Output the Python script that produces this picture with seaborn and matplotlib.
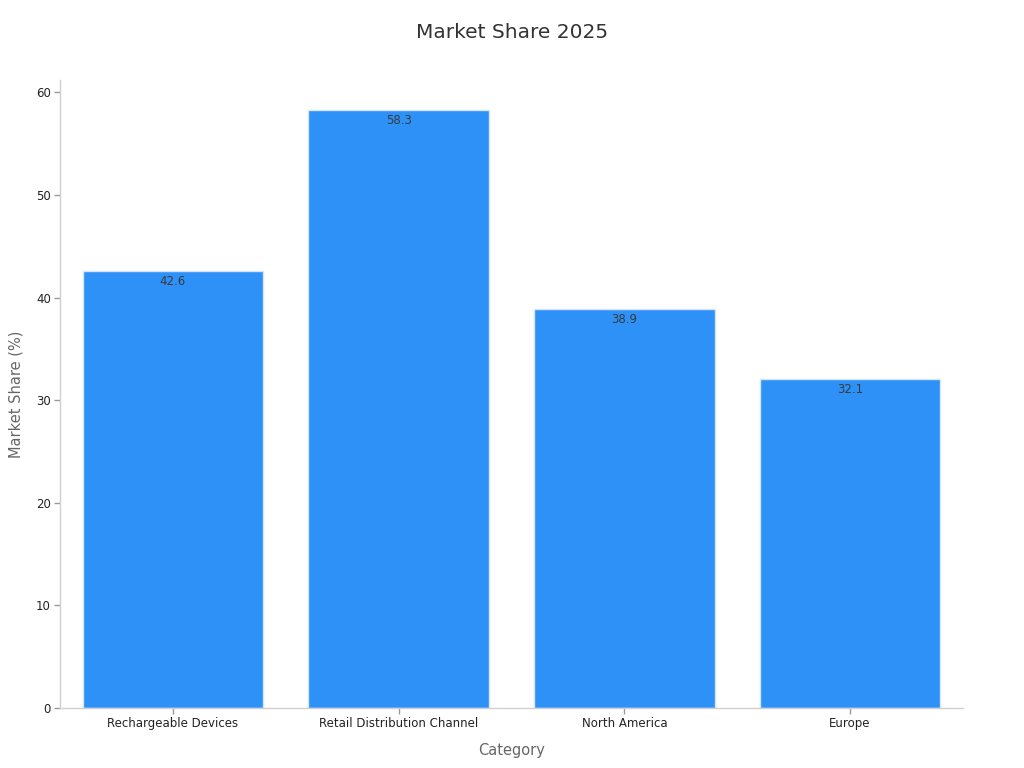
import seaborn as sns
import matplotlib.pyplot as plt
import pandas as pd

categories = ['Rechargeable Devices', 'Retail Distribution Channel', 'North America', 'Europe']
shares = [42.6, 58.3, 38.9, 32.1]

df = pd.DataFrame({'Category': categories, 'Share': shares})

sns.set_style('white')
plt.rcParams['font.family'] = ['DejaVu Sans']

fig = plt.figure(figsize=(10.24, 7.68), dpi=100)
ax = fig.add_axes([60 / 1024, 1 - 708 / 768, 903 / 1024, 628 / 768])

sns.barplot(data=df, x='Category', y='Share', color='#2E91F8', saturation=1,
            width=0.8, edgecolor='#D6E6FA', linewidth=1, ax=ax)

for i, v in enumerate(shares):
    ax.text(i, v - 0.4, f'{v}', ha='center', va='top', fontsize=8.5, color='#3a3a3a')

ax.set_xlim(-0.5, 3.5)
ax.set_ylim(0, max(shares) * 1.05)
ax.set_yticks([0, 10, 20, 30, 40, 50, 60])

for side in ['top', 'right']:
    ax.spines[side].set_visible(False)
for side in ['left', 'bottom']:
    ax.spines[side].set_color('#d0d0d0')
    ax.spines[side].set_linewidth(1)

ax.tick_params(axis='both', bottom=True, left=True, length=4, width=1, pad=2.5,
               color='#999999', labelsize=8.5, labelcolor='#222222')
ax.set_xlabel('Category', fontsize=10.5, color='#666666', labelpad=9)
ax.set_ylabel('Market Share (%)', fontsize=10.5, color='#666666', labelpad=9)
fig.suptitle('Market Share 2025', y=1 - 33 / 768, va='center', fontsize=14.5, color='#333333')

fig.savefig('out.png', dpi=100)
